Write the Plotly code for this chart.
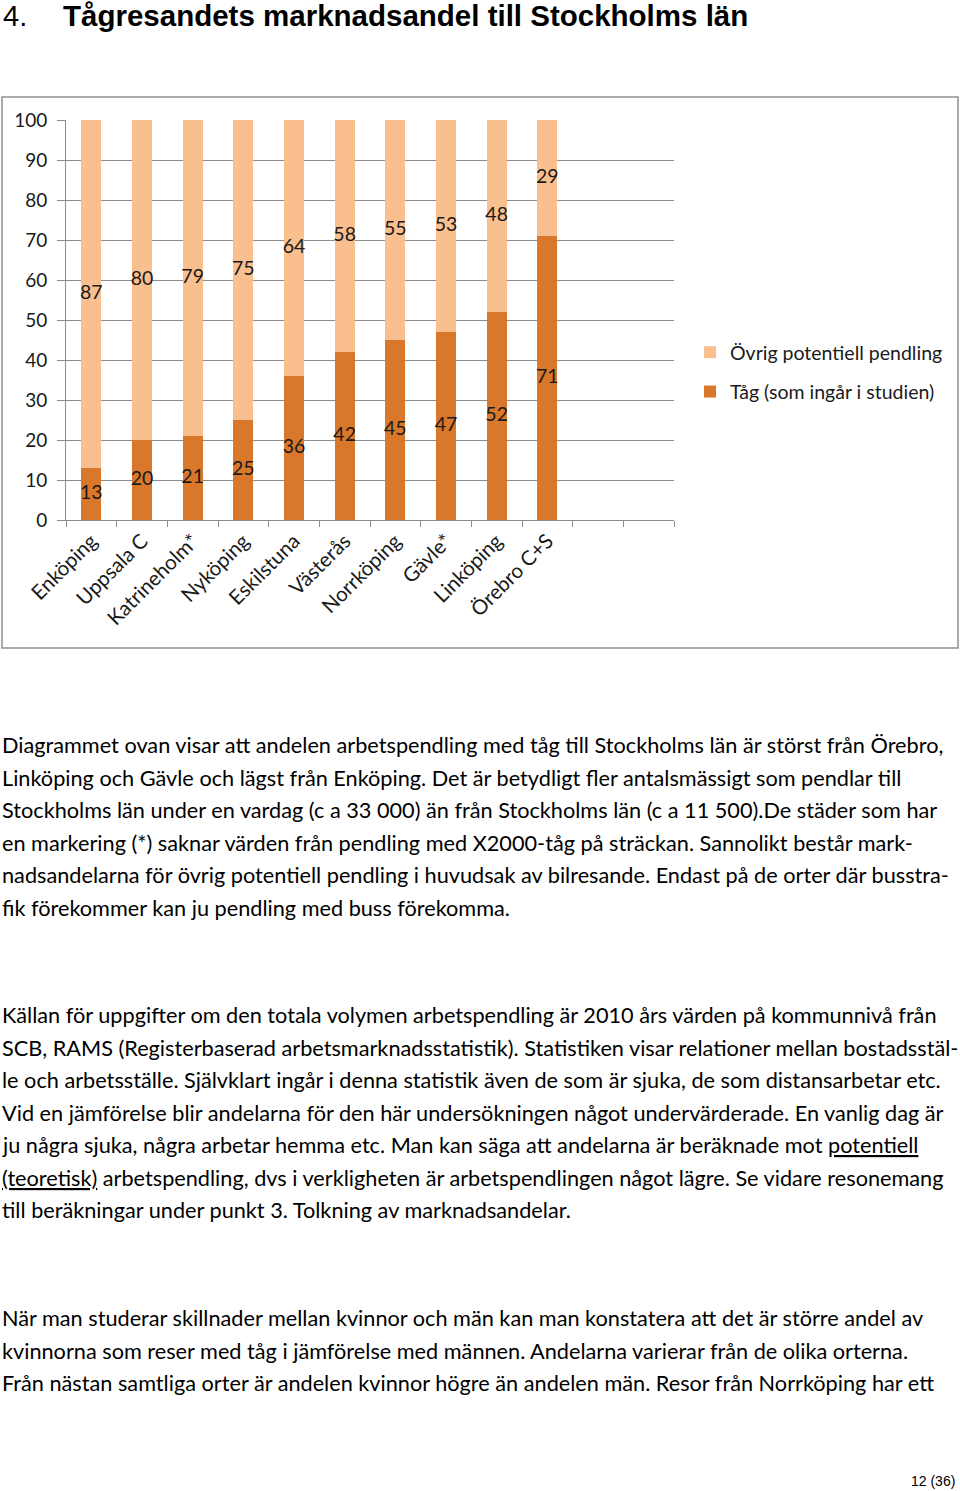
import plotly.graph_objects as go

W, H = 960, 1491

names = ["Enköping", "Uppsala C", "Katrineholm*", "Nyköping", "Eskilstuna",
         "Västerås", "Norrköping", "Gävle*", "Linköping", "Örebro C+S"]
blank_slots = [" ", "  "]
tag = [13, 20, 21, 25, 36, 42, 45, 47, 52, 71]
ovrig = [87, 80, 79, 75, 64, 58, 55, 53, 48, 29]
y_ticks = [0, 10, 20, 30, 40, 50, 60, 70, 80, 90, 100]

para1 = [
    "Diagrammet ovan visar att andelen arbetspendling med tåg till Stockholms län är störst från Örebro,",
    "Linköping och Gävle och lägst från Enköping. Det är betydligt fler antalsmässigt som pendlar till",
    "Stockholms län under en vardag (c a 33 000) än från Stockholms län (c a 11 500).De städer som har",
    "en markering (*) saknar värden från pendling med X2000-tåg på sträckan. Sannolikt består mark-",
    "nadsandelarna för övrig potentiell pendling i huvudsak av bilresande. Endast på de orter där busstra-",
    "fik förekommer kan ju pendling med buss förekomma.",
]
para2 = [
    "Källan för uppgifter om den totala volymen arbetspendling är 2010 års värden på kommunnivå från",
    "SCB, RAMS (Registerbaserad arbetsmarknadsstatistik). Statistiken visar relationer mellan bostadsstäl-",
    "le och arbetsställe. Självklart ingår i denna statistik även de som är sjuka, de som distansarbetar etc.",
    "Vid en jämförelse blir andelarna för den här undersökningen något undervärderade. En vanlig dag är",
    "ju några sjuka, några arbetar hemma etc. Man kan säga att andelarna är beräknade mot <u>potentiell</u>",
    "<u>(teoretisk)</u> arbetspendling, dvs i verkligheten är arbetspendlingen något lägre. Se vidare resonemang",
    "till beräkningar under punkt 3. Tolkning av marknadsandelar.",
]
para3 = [
    "När man studerar skillnader mellan kvinnor och män kan man konstatera att det är större andel av",
    "kvinnorna som reser med tåg i jämförelse med männen. Andelarna varierar från de olika orterna.",
    "Från nästan samtliga orter är andelen kvinnor högre än andelen män. Resor från Norrköping har ett",
]

BODY = "Lato, Carlito, Calibri, sans-serif"
C_LIGHT = "#F9BF8F"
C_DARK = "#D9772B"


def py(px):
    return 1 - px / H


fig = go.Figure()
fig.add_trace(go.Bar(x=names, y=tag, name="Tåg (som ingår i studien)",
                     marker=dict(color=C_DARK, line=dict(width=0)), width=0.4,
                     legendrank=2, legendgroup="tag"))
fig.add_trace(go.Bar(x=names, y=ovrig, name="Övrig potentiell pendling",
                     marker=dict(color=C_LIGHT, line=dict(width=0)), width=0.4,
                     legendrank=1, legendgroup="ovrig"))
# value labels, centred in each segment
fig.add_trace(go.Scatter(x=names, y=[t / 2 for t in tag], mode="text",
                         text=[str(t) for t in tag], showlegend=False,
                         textfont=dict(family=BODY, size=19.5, color="#1a1a1a"),
                         hoverinfo="skip"))
fig.add_trace(go.Scatter(x=names, y=[t + o / 2 for t, o in zip(tag, ovrig)], mode="text",
                         text=[str(o) for o in ovrig], showlegend=False,
                         textfont=dict(family=BODY, size=19.5, color="#1a1a1a"),
                         hoverinfo="skip"))

fig.update_layout(
    width=W, height=H, margin=dict(l=0, r=0, t=0, b=0, autoexpand=False),
    paper_bgcolor="white", plot_bgcolor="white",
    barmode="stack",
    showlegend=True,
    legend=dict(x=690 / W, y=py(333), xanchor="left", yanchor="top",
                traceorder="grouped", tracegroupgap=11,
                font=dict(family=BODY, size=19.5, color="#1a1a1a"),
                bgcolor="rgba(0,0,0,0)", itemwidth=30),
    xaxis=dict(domain=[66 / W, 674 / W], type="category",
               categoryorder="array", categoryarray=names + blank_slots,
               range=[-0.5, 11.5], tickson="boundaries",
               ticks="outside", ticklen=6, tickcolor="#8c8c8c",
               showline=True, linecolor="#8c8c8c", linewidth=1,
               showgrid=False, tickangle=-45, automargin=False,
               tickfont=dict(family=BODY, size=20.5, color="#1a1a1a")),
    yaxis=dict(domain=[py(520), py(120)], range=[0, 100],
               tickvals=y_ticks, ticks="outside", ticklen=8, tickcolor="#8c8c8c",
               showline=True, linecolor="#8c8c8c", linewidth=1,
               showgrid=True, gridcolor="#8c8c8c", gridwidth=1, zeroline=False,
               ticklabelstandoff=6, automargin=False,
               tickfont=dict(family=BODY, size=19, color="#1a1a1a")),
)

# chart frame
fig.add_shape(type="rect", xref="paper", yref="paper",
              x0=2 / W, x1=958 / W, y0=py(648), y1=py(97),
              line=dict(color="#8f8f8f", width=1.5), fillcolor="rgba(0,0,0,0)",
              layer="below")

anns = []
anns.append(dict(x=1 / W, y=py(16), text="4.", xanchor="left", yanchor="middle",
                 font=dict(family="Liberation Sans, Arial", size=29, color="black")))
anns.append(dict(x=61 / W, y=py(16), text="<b>Tågresandets marknadsandel till Stockholms län</b>",
                 xanchor="left", yanchor="middle",
                 font=dict(family="Liberation Sans, Arial", size=29.5, color="black")))

def add_para(lines, y0, step=32.5):
    for i, ln in enumerate(lines):
        anns.append(dict(x=0, y=py(y0 + i * step), text=ln, xanchor="left", yanchor="middle",
                         font=dict(family=BODY, size=21.7, color="black")))

add_para(para1, 745)
add_para(para2, 1015)
add_para(para3, 1318)

anns.append(dict(x=957 / W, y=py(1481), text="12 (36)", xanchor="right", yanchor="middle",
                 font=dict(family="Liberation Sans, Arial", size=14, color="black")))

for a in anns:
    a.update(xref="paper", yref="paper", showarrow=False)
fig.update_layout(annotations=anns)

fig.write_html("out.html")
